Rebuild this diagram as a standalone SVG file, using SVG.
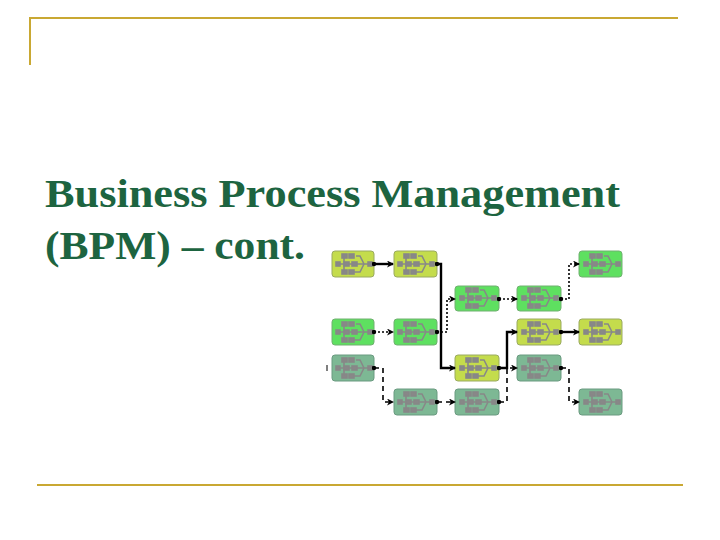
<svg xmlns="http://www.w3.org/2000/svg" width="720" height="540" viewBox="0 0 720 540">
<style>
.t{font-family:"Liberation Serif",serif;font-weight:bold;font-size:40px;fill:#1d6440}
.fr{stroke:#c9a833;stroke-width:2;fill:none}
.yg{fill:#c4dc4c;stroke:#9aaa60}
.bg{fill:#5ee060;stroke:#70b070}
.tl{fill:#7db894;stroke:#6a9a80}
.c{fill:none;stroke:#000;stroke-width:1.6}
.s{stroke-width:2.4}
.d{stroke-dasharray:2 2}
.ds{stroke-dasharray:5 4}
</style>
<defs>
<marker id="a" markerWidth="7" markerHeight="7" refX="6" refY="3.5" orient="auto" markerUnits="userSpaceOnUse"><path d="M0,0 L7,3.5 L0,7 L2,3.5 Z" fill="#000"/></marker>
<marker id="o" markerWidth="5" markerHeight="5" refX="2.5" refY="2.5" markerUnits="userSpaceOnUse"><circle cx="2.5" cy="2.5" r="2.2" fill="#000"/></marker>
<g id="in" fill="none" stroke="#888" stroke-width="1.6">
<rect x="4" y="11" width="4" height="4" fill="#888"/><rect x="10" y="3" width="5" height="4" fill="#888"/><rect x="17" y="3" width="5" height="4" fill="#888"/>
<rect x="12" y="11" width="5" height="4" fill="#888"/><rect x="20" y="11" width="5" height="4" fill="#888"/><rect x="10" y="19" width="5" height="4" fill="#888"/><rect x="17" y="19" width="5" height="4" fill="#888"/>
<path d="M8,13 H36 M12,5 V21 M24,5 H28 L32,13 M25,13 L30,13 M22,21 H28 L32,13"/><rect x="36" y="11" width="4" height="4" fill="#888"/>
</g>
</defs>
<path class="fr" d="M30,65 V18 H678"/>
<path class="fr" d="M37,485 H683"/>
<text class="t" x="45" y="207" textLength="575" lengthAdjust="spacingAndGlyphs">Business Process Management</text>
<text class="t" x="45" y="259" textLength="260" lengthAdjust="spacingAndGlyphs">(BPM) – cont.</text>
<g id="n1"><rect class="yg" x="332" y="251" width="42" height="26" rx="3"/><use href="#in" x="332" y="251"/></g>
<g id="n2"><rect class="yg" x="394" y="251" width="43" height="26" rx="3"/><use href="#in" x="394" y="251"/></g>
<g id="n3"><rect class="bg" x="579" y="251" width="43" height="26" rx="3"/><use href="#in" x="580" y="251"/></g>
<g id="n4"><rect class="bg" x="455" y="286" width="44" height="25" rx="3"/><use href="#in" x="456" y="285"/></g>
<g id="n5"><rect class="bg" x="517" y="286" width="44" height="25" rx="3"/><use href="#in" x="518" y="285"/></g>
<g id="n6"><rect class="bg" x="332" y="319" width="42" height="26" rx="3"/><use href="#in" x="332" y="319"/></g>
<g id="n7"><rect class="bg" x="394" y="319" width="43" height="26" rx="3"/><use href="#in" x="394" y="319"/></g>
<g id="n8"><rect class="yg" x="517" y="319" width="44" height="26" rx="3"/><use href="#in" x="518" y="319"/></g>
<g id="n9"><rect class="yg" x="579" y="319" width="43" height="26" rx="3"/><use href="#in" x="580" y="319"/></g>
<g id="n10"><rect class="tl" x="332" y="355" width="42" height="26" rx="3"/><use href="#in" x="332" y="355"/></g>
<g id="n11"><rect class="yg" x="455" y="355" width="44" height="26" rx="3"/><use href="#in" x="456" y="355"/></g>
<g id="n12"><rect class="tl" x="517" y="355" width="44" height="26" rx="3"/><use href="#in" x="518" y="355"/></g>
<g id="n13"><rect class="tl" x="394" y="389" width="43" height="26" rx="3"/><use href="#in" x="394" y="389"/></g>
<g id="n14"><rect class="tl" x="455" y="389" width="44" height="26" rx="3"/><use href="#in" x="456" y="389"/></g>
<g id="n15"><rect class="tl" x="579" y="389" width="43" height="26" rx="3"/><use href="#in" x="580" y="389"/></g>
<g id="connectors" marker-start="url(#o)" marker-end="url(#a)">
<path class="c s" d="M374,264 H393"/>
<path class="c s" d="M437,264 H441 V368 H455"/>
<path class="c d" d="M374,332 H393"/>
<path class="c d" d="M437,332 H447 V299 H455"/>
<path class="c d" d="M499,299 H517"/>
<path class="c d" d="M561,299 H569 V264 H579"/>
<path class="c s" d="M499,368 H507 V332 H517"/>
<path class="c s" d="M561,332 H579"/>
<path class="c ds" d="M374,368 H383 V402 H393"/>
<path class="c ds" d="M437,402 H455"/>
<path class="c ds" d="M499,402 H507 V368 H517"/>
<path class="c ds" d="M561,368 H569 V402 H579"/>
</g>
<path d="M327,365 V371" stroke="#000" stroke-width="1"/>
</svg>
